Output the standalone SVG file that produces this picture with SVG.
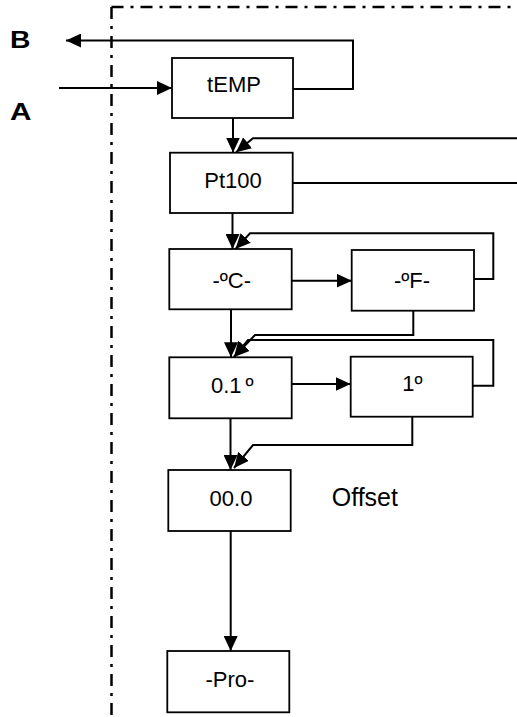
<svg xmlns="http://www.w3.org/2000/svg" width="517" height="717" viewBox="0 0 517 717">
<style>
.box{fill:#fff;stroke:#000;stroke-width:1.8}
.t{font-family:"Liberation Sans",Arial,sans-serif;font-size:22px;fill:#000}
.lbl{font-family:"Liberation Sans",Arial,sans-serif;font-size:23px;font-weight:bold;fill:#000}
.c{fill:none;stroke:#000;stroke-width:2}
.border{fill:none;stroke:#000;stroke-width:2.5;stroke-dasharray:12 7 3 7}
</style>
<defs>
<marker id="ah" viewBox="0 0 15 14" refX="15" refY="7" markerWidth="15" markerHeight="14" orient="auto" markerUnits="userSpaceOnUse">
<path d="M0,0 L15,7 L0,14 z" fill="#000"/>
</marker>
</defs>
<g id="frame">
<line class="border" x1="111.5" y1="7" x2="111.5" y2="717"/>
<line class="border" x1="111.5" y1="7" x2="517" y2="7"/>
</g>
<g id="connectors">
<path class="c" d="M59,88 L172,88" marker-end="url(#ah)"/>
<path class="c" d="M293,89 L353,89 L353,40.5 L66,40.5" marker-end="url(#ah)"/>
<path class="c" d="M233,118 L233,152.5" marker-end="url(#ah)"/>
<path class="c" d="M517,138.3 L253,138.3 L236,152.3" marker-end="url(#ah)"/>
<path class="c" d="M292.7,183 L517,183"/>
<path class="c" d="M232.5,213 L232.5,249" marker-end="url(#ah)"/>
<path class="c" d="M474,279 L493.3,279 L493.3,233.3 L250,233.3 L235.5,249" marker-end="url(#ah)"/>
<path class="c" d="M291.7,280.7 L351.7,280.7" marker-end="url(#ah)"/>
<path class="c" d="M231,309.3 L231,357.3" marker-end="url(#ah)"/>
<path class="c" d="M413.3,310.7 L413.3,335 L255,335 L234,357" marker-end="url(#ah)"/>
<path class="c" d="M472.7,385.7 L493.3,385.7 L493.3,340 L248,340 L234,357" marker-end="url(#ah)"/>
<path class="c" d="M291.7,384 L350.7,384" marker-end="url(#ah)"/>
<path class="c" d="M230.5,418.3 L230.5,470" marker-end="url(#ah)"/>
<path class="c" d="M412.3,416.7 L412.3,445 L253,445 L234,468" marker-end="url(#ah)"/>
<path class="c" d="M230.7,531 L230.7,651" marker-end="url(#ah)"/>
</g>
<g id="labelB"><text class="lbl" x="10" y="47.5" textLength="20.5" lengthAdjust="spacingAndGlyphs">B</text></g>
<g id="labelA"><text class="lbl" x="10" y="119.5" textLength="21.5" lengthAdjust="spacingAndGlyphs">A</text></g>
<g id="tEMP"><rect class="box" x="172" y="58" width="121" height="60"/><text class="t" x="234" y="91.7" text-anchor="middle">tEMP</text></g>
<g id="Pt100"><rect class="box" x="170" y="152.7" width="122.7" height="60.3"/><text class="t" x="233" y="188.3" text-anchor="middle">Pt100</text></g>
<g id="degC"><rect class="box" x="169.3" y="249" width="122.4" height="60.3"/><text class="t" x="231.7" y="288.3" text-anchor="middle">-ºC-</text></g>
<g id="degF"><rect class="box" x="351.7" y="250" width="122.3" height="60.7"/><text class="t" x="412" y="288.3" text-anchor="middle">-ºF-</text></g>
<g id="res01"><rect class="box" x="169.3" y="357.3" width="122.4" height="61"/><text class="t" x="211" y="393">0.1<tspan dx="4">º</tspan></text></g>
<g id="res1"><rect class="box" x="350.7" y="356.7" width="122" height="60"/><text class="t" x="412.5" y="391" text-anchor="middle">1º</text></g>
<g id="offset"><rect class="box" x="168.3" y="470" width="122.4" height="61"/><text class="t" x="231" y="506" text-anchor="middle">00.0</text><text class="t" x="331.7" y="506" style="font-size:25px">Offset</text></g>
<g id="Pro"><rect class="box" x="167.3" y="651" width="122" height="61.3"/><text class="t" x="230" y="686.7" text-anchor="middle">-Pro-</text></g>
</svg>
